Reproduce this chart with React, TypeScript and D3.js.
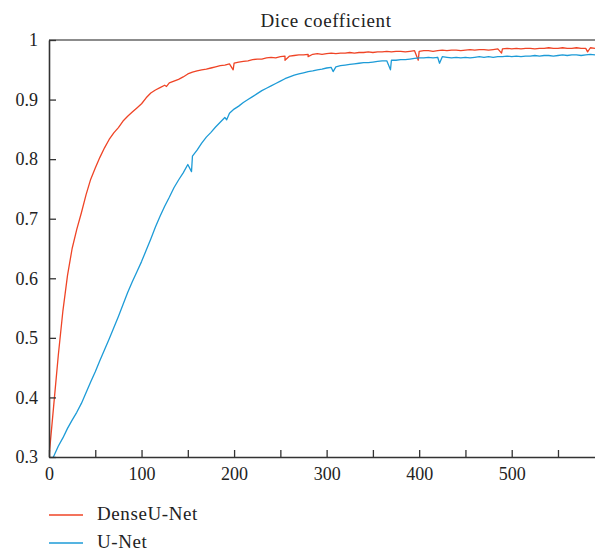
import React, { useEffect, useRef } from 'react';
import * as d3 from 'd3';

// epochs sampled every 5
const epochs: number[] = d3.range(0, 591, 5);

const denseUNet: number[] = [
  0.300, 0.385, 0.470, 0.545, 0.605, 0.650, 0.682, 0.710, 0.740, 0.766,
  0.785, 0.803, 0.819, 0.833, 0.844, 0.853, 0.864, 0.872, 0.879, 0.886,
  0.893, 0.903, 0.911, 0.916, 0.920, 0.924, 0.928, 0.931, 0.934, 0.938,
  0.943, 0.946, 0.948, 0.950, 0.951, 0.953, 0.955, 0.957, 0.958, 0.960,
  0.961, 0.963, 0.964, 0.965, 0.967, 0.968, 0.968, 0.970, 0.971, 0.970,
  0.972, 0.973, 0.973, 0.974, 0.975, 0.975, 0.976, 0.976, 0.977, 0.976,
  0.977, 0.978, 0.977, 0.978, 0.978, 0.979, 0.978, 0.979, 0.979, 0.980,
  0.979, 0.980, 0.980, 0.981, 0.980, 0.981, 0.981, 0.980, 0.981, 0.982,
  0.981, 0.982, 0.982, 0.981, 0.982, 0.983, 0.982, 0.983, 0.983, 0.982,
  0.983, 0.984, 0.983, 0.984, 0.984, 0.983, 0.984, 0.985, 0.985, 0.986,
  0.985, 0.986, 0.985, 0.986, 0.986, 0.985, 0.986, 0.986, 0.987, 0.986,
  0.986, 0.987, 0.986, 0.986, 0.987, 0.986, 0.986, 0.987, 0.986,
];

const uNet: number[] = [
  0.282, 0.301, 0.318, 0.332, 0.348, 0.362, 0.375, 0.390, 0.408, 0.426,
  0.443, 0.462, 0.480, 0.498, 0.517, 0.536, 0.556, 0.576, 0.594, 0.611,
  0.628, 0.647, 0.666, 0.686, 0.704, 0.721, 0.736, 0.752, 0.765, 0.777,
  0.791, 0.805, 0.815, 0.827, 0.837, 0.845, 0.854, 0.862, 0.870, 0.877,
  0.884, 0.889, 0.895, 0.900, 0.905, 0.910, 0.915, 0.919, 0.923, 0.927,
  0.931, 0.935, 0.938, 0.941, 0.943, 0.945, 0.947, 0.948, 0.950, 0.951,
  0.953, 0.954, 0.955, 0.957, 0.958, 0.959, 0.960, 0.961, 0.962, 0.962,
  0.963, 0.964, 0.965, 0.965, 0.966, 0.966, 0.967, 0.967, 0.968, 0.969,
  0.970, 0.970, 0.971, 0.970, 0.971, 0.972, 0.971, 0.970, 0.971, 0.970,
  0.971, 0.970, 0.971, 0.972, 0.971, 0.972, 0.971, 0.972, 0.972, 0.973,
  0.972, 0.973, 0.972, 0.973, 0.973, 0.974, 0.973, 0.974, 0.974, 0.973,
  0.974, 0.975, 0.974, 0.975, 0.975, 0.974, 0.975, 0.976, 0.975,
];

// single-epoch dips visible in the plot: [epoch, value]
const denseUNetDips: [number, number][] = [
  [127, 0.922], [199, 0.950], [255, 0.966], [280, 0.972], [399, 0.966], [489, 0.978], [582, 0.980],
];
const uNetDips: [number, number][] = [
  [154, 0.779], [192, 0.866], [307, 0.947], [369, 0.950], [422, 0.961],
];

const seriesNames = ['DenseU-Net', 'U-Net'];
const seriesColors = ['#ef4426', '#1d9bd7'];
const yTicks = [0.3, 0.4, 0.5, 0.6, 0.7, 0.8, 0.9, 1];
const xTicks = d3.range(0, 551, 50);
const xLabels = [0, 100, 200, 300, 400, 500];

const FONT = '"Liberation Serif", "DejaVu Serif", serif';

function merge(vals: number[], dips: [number, number][]): [number, number][] {
  const pts: [number, number][] = epochs.map((e, i) => [e, vals[i]]);
  return pts.concat(dips).sort((a, b) => a[0] - b[0]);
}

export default function App() {
  const ref = useRef<SVGSVGElement>(null);

  useEffect(() => {
    const width = 595;
    const left = 49;
    const top = 40;
    const bottom = 457;

    const svg = d3.select(ref.current);
    svg.selectAll('*').remove();

    const x = d3.scaleLinear().domain([0, 590]).range([left, width]);
    const y = d3.scaleLinear().domain([0.3, 1]).range([bottom, top]);

    svg.append('defs').append('clipPath').attr('id', 'plot-clip')
      .append('rect')
      .attr('x', left).attr('y', top)
      .attr('width', width - left).attr('height', bottom - top);

    // title
    svg.append('text')
      .attr('x', 326).attr('y', 27)
      .attr('text-anchor', 'middle')
      .style('font-family', FONT).style('font-size', '19px')
      .style('letter-spacing', '0.6px').style('fill', '#222')
      .text('Dice coefficient');

    // lines
    const line = d3.line<[number, number]>()
      .x((d) => x(d[0]))
      .y((d) => y(d[1]));

    const data = [merge(denseUNet, denseUNetDips), merge(uNet, uNetDips)];
    const g = svg.append('g').attr('clip-path', 'url(#plot-clip)');
    data.forEach((pts, i) => {
      g.append('path')
        .attr('d', line(pts) as string)
        .attr('fill', 'none')
        .attr('stroke', seriesColors[i])
        .attr('stroke-width', 1.3)
        .attr('stroke-linejoin', 'round');
    });

    // top frame line
    svg.append('line')
      .attr('x1', left).attr('x2', width)
      .attr('y1', top).attr('y2', top)
      .attr('stroke', '#666').attr('stroke-width', 1.6);

    // y axis
    const yAxis = svg.append('g').attr('transform', `translate(${left},0)`)
      .call(d3.axisLeft(y).tickValues(yTicks).tickSizeInner(-7).tickSizeOuter(0)
        .tickPadding(12).tickFormat((d) => String(d)));
    // x axis
    const xAxis = svg.append('g').attr('transform', `translate(0,${bottom})`)
      .call(d3.axisBottom(x).tickValues(xTicks).tickSizeInner(-7).tickSizeOuter(0)
        .tickPadding(12).tickFormat((d) => (xLabels.includes(+d) ? String(d) : '')));

    [yAxis, xAxis].forEach((ax) => {
      ax.select('.domain').attr('stroke', '#333').attr('stroke-width', 1.6);
      ax.selectAll('.tick line').attr('stroke', '#333').attr('stroke-width', 1.3);
      ax.selectAll('.tick text')
        .style('font-family', FONT).style('font-size', '18px').style('fill', '#222');
    });
    xAxis.selectAll('.tick text').attr('dy', '0.8em').attr('y', 9);
    yAxis.selectAll('.tick text').attr('x', -11);

    // legend
    seriesNames.forEach((name, i) => {
      const ly = 515 + i * 28;
      svg.append('line')
        .attr('x1', 49).attr('x2', 83)
        .attr('y1', ly).attr('y2', ly)
        .attr('stroke', seriesColors[i]).attr('stroke-width', 1.3);
      svg.append('text')
        .attr('x', 97).attr('y', ly + 5)
        .style('font-family', FONT).style('font-size', '19px')
        .style('letter-spacing', '0.6px').style('fill', '#222')
        .text(name);
    });
  }, []);

  return (
    <svg
      ref={ref}
      width={595}
      height={551}
      style={{ position: 'absolute', left: 0, top: 0, background: '#fff' }}
    />
  );
}
